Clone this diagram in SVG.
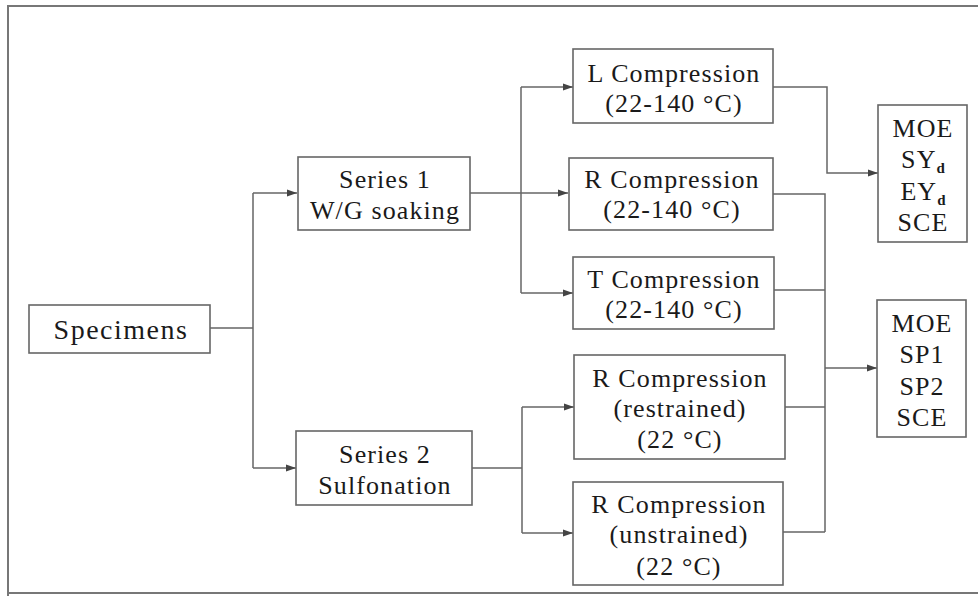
<svg xmlns="http://www.w3.org/2000/svg" width="978" height="596" viewBox="0 0 978 596">
<defs>
<marker id="arr" markerWidth="10" markerHeight="8" refX="10" refY="4" orient="auto" markerUnits="userSpaceOnUse">
<path d="M0,0.5 L10,4 L0,7.5 Z" fill="#444"/>
</marker>
<style>
.box{fill:#fff;stroke:#666;stroke-width:1.6}
.t{font-family:"Liberation Serif","Times New Roman",serif;font-size:26px;fill:#1a1a1a;text-anchor:middle;letter-spacing:1.1px}
.big{font-size:28px;letter-spacing:1.5px}
.sub{font-size:15px;letter-spacing:0;font-weight:bold}
.c{fill:none;stroke:#666;stroke-width:1.5}
.a{marker-end:url(#arr)}
</style>
</defs>
<rect width="978" height="596" fill="#fff"/>
<path d="M8,596 V6 H978 M8,593 H978" fill="none" stroke="#777" stroke-width="2"/>

<g id="connectors">
<path class="c" d="M210,328 H253 M253,193 V468"/>
<path class="c a" d="M253,193 H297"/>
<path class="c a" d="M253,468 H296"/>
<path class="c a" d="M470,193 H568"/>
<path class="c" d="M521,87 V293"/>
<path class="c a" d="M521,87 H573"/>
<path class="c a" d="M521,293 H573"/>
<path class="c" d="M472,468 H522 M522,407 V533"/>
<path class="c a" d="M522,407 H574"/>
<path class="c a" d="M522,533 H573"/>
<path class="c a" d="M773,87 H827 V173 H878"/>
<path class="c" d="M773,194 H825 V532 M774,290 H825 M785,407 H825 M783,532 H825"/>
<path class="c a" d="M825,368 H877"/>
</g>

<g id="specimens">
<rect class="box" x="29" y="305" width="181" height="48"/>
<text class="t big" x="121" y="339">Specimens</text>
</g>
<g id="series1">
<rect class="box" x="298" y="157" width="172" height="73"/>
<text class="t" x="385" y="188">Series 1</text>
<text class="t" x="385" y="219">W/G soaking</text>
</g>
<g id="series2">
<rect class="box" x="296" y="431" width="176" height="74"/>
<text class="t" x="385" y="463">Series 2</text>
<text class="t" x="385" y="494">Sulfonation</text>
</g>
<g id="lcomp">
<rect class="box" x="573" y="49" width="200" height="74"/>
<text class="t" x="674" y="82">L Compression</text>
<text class="t" x="674" y="112">(22-140 °C)</text>
</g>
<g id="rcomp">
<rect class="box" x="569" y="158" width="204" height="72"/>
<text class="t" x="672" y="188">R Compression</text>
<text class="t" x="672" y="218">(22-140 °C)</text>
</g>
<g id="tcomp">
<rect class="box" x="573" y="257" width="201" height="72"/>
<text class="t" x="674" y="288">T Compression</text>
<text class="t" x="674" y="318">(22-140 °C)</text>
</g>
<g id="rrestrained">
<rect class="box" x="574" y="355" width="211" height="104"/>
<text class="t" x="680" y="387">R Compression</text>
<text class="t" x="680" y="417">(restrained)</text>
<text class="t" x="680" y="448">(22 °C)</text>
</g>
<g id="runstrained">
<rect class="box" x="573" y="482" width="210" height="103"/>
<text class="t" x="679" y="513">R Compression</text>
<text class="t" x="679" y="543">(unstrained)</text>
<text class="t" x="679" y="575">(22 °C)</text>
</g>
<g id="out1">
<rect class="box" x="878" y="105" width="89" height="137"/>
<text class="t" x="923" y="137">MOE</text>
<text class="t" x="923" y="168">SY<tspan class="sub" dy="5">d</tspan></text>
<text class="t" x="923" y="200">EY<tspan class="sub" dy="5">d</tspan></text>
<text class="t" x="923" y="231">SCE</text>
</g>
<g id="out2">
<rect class="box" x="877" y="300" width="89" height="137"/>
<text class="t" x="922" y="332">MOE</text>
<text class="t" x="922" y="363">SP1</text>
<text class="t" x="922" y="395">SP2</text>
<text class="t" x="922" y="426">SCE</text>
</g>
</svg>
